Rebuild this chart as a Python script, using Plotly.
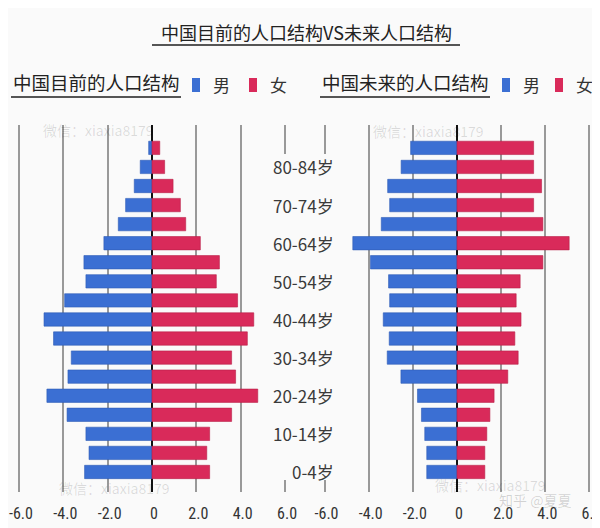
import plotly.graph_objects as go

# ---------------- data ----------------
age_groups = ["0-4岁", "5-9岁", "10-14岁", "15-19岁", "20-24岁", "25-29岁", "30-34岁",
              "35-39岁", "40-44岁", "45-49岁", "50-54岁", "55-59岁", "60-64岁", "65-69岁",
              "70-74岁", "75-79岁", "80-84岁", "85岁以上"]
shown_labels = ["0-4岁", "10-14岁", "20-24岁", "30-34岁", "40-44岁",
                "50-54岁", "60-64岁", "70-74岁", "80-84岁"]

current_male = [3.04, 2.84, 2.98, 3.83, 4.74, 3.79, 3.64, 4.44, 4.87, 3.94,
                2.98, 3.07, 2.17, 1.52, 1.19, 0.80, 0.53, 0.15]
current_female = [2.60, 2.47, 2.60, 3.59, 4.77, 3.77, 3.59, 4.30, 4.59, 3.86,
                  2.90, 3.04, 2.18, 1.52, 1.28, 0.95, 0.57, 0.35]
future_male = [1.37, 1.37, 1.46, 1.61, 1.79, 2.54, 3.16, 3.07, 3.34, 3.05,
               3.10, 3.92, 4.72, 3.43, 3.05, 3.14, 2.53, 2.10]
future_female = [1.26, 1.26, 1.35, 1.49, 1.68, 2.30, 2.77, 2.62, 2.90, 2.68,
                 2.86, 3.89, 5.08, 3.89, 3.47, 3.83, 3.47, 3.47]

tick_vals = [-6, -4, -2, 0, 2, 4, 6]
tick_text = ["-6.0", "-4.0", "-2.0", "0", "2.0", "4.0", "6.0"]

title_text = "中国目前的人口结构VS未来人口结构"
left_title = "中国目前的人口结构"
right_title = "中国未来的人口结构"
legend_names = ["男", "女"]
watermark = "微信：xiaxia8179"

# ---------------- style ----------------
# the page body has an 8px margin; the figure is sized to fit the 600x528 window
OX, OY = 8, 8
W, H = 600 - OX, 528 - OY
BG = "#fafafa"
BLUE = "#3b6fd3"
RED = "#d92a5a"
CJK = "Noto Sans CJK SC, Noto Sans, sans-serif"
TICKFONT = "Liberation Sans Narrow, Roboto Condensed, Noto Sans, sans-serif"


def px(x):
    """window pixel x -> paper fraction"""
    return (x - OX) / W


def py(y):
    """window pixel y -> paper fraction"""
    return 1 - (y - OY) / H


fig = go.Figure()

fig.add_trace(go.Bar(y=age_groups, x=[-v for v in current_male], orientation="h",
                     name=legend_names[0], marker=dict(color=BLUE, line=dict(color="#2f5db5", width=0.6)),
                     xaxis="x", yaxis="y"))
fig.add_trace(go.Bar(y=age_groups, x=current_female, orientation="h",
                     name=legend_names[1], marker=dict(color=RED, line=dict(color="#b82048", width=0.6)),
                     xaxis="x", yaxis="y"))
fig.add_trace(go.Bar(y=age_groups, x=[-v for v in future_male], orientation="h",
                     name=legend_names[0], marker=dict(color=BLUE, line=dict(color="#2f5db5", width=0.6)),
                     xaxis="x2", yaxis="y2"))
fig.add_trace(go.Bar(y=age_groups, x=future_female, orientation="h",
                     name=legend_names[1], marker=dict(color=RED, line=dict(color="#b82048", width=0.6)),
                     xaxis="x2", yaxis="y2"))

xaxis_common = dict(range=[-6.3, 6.3], tickvals=tick_vals, ticktext=tick_text,
                    showgrid=True, gridcolor="#999999", gridwidth=1.5,
                    zeroline=True, zerolinecolor="#111111", zerolinewidth=2,
                    showline=False, ticks="", ticklabelstandoff=10, automargin=False,
                    ticklabeloverflow="allow", ticklabelshift=2,
                    tickfont=dict(family=TICKFONT, size=16, color="#333333"),
                    fixedrange=True)
yaxis_common = dict(type="category", categoryorder="array", categoryarray=age_groups,
                    range=[-1.05, 18.2], showticklabels=False, showgrid=False,
                    zeroline=False, showline=False, ticks="", automargin=False,
                    domain=[py(492), py(125)], fixedrange=True)

fig.update_layout(
    width=W, height=H,
    margin=dict(l=0, r=0, t=0, b=0, pad=0, autoexpand=False),
    paper_bgcolor=BG, plot_bgcolor=BG,
    barmode="relative", bargap=0.3,
    xaxis=dict(domain=[px(12.3), px(291.7)], anchor="y", **xaxis_common),
    xaxis2=dict(domain=[px(317.9), px(596.1)], anchor="y2", **xaxis_common),
    yaxis=dict(anchor="x", **yaxis_common),
    yaxis2=dict(anchor="x2", **yaxis_common),
    showlegend=False,
)

shapes = [
    # background column behind the age labels
    dict(type="rect", xref="paper", yref="paper", x0=px(268), x1=px(342),
         y0=py(480), y1=py(154), fillcolor=BG, line=dict(width=0), layer="above"),
    # underlines
    dict(type="line", xref="paper", yref="paper", x0=px(152), x1=px(460),
         y0=py(45), y1=py(45), line=dict(color="#555555", width=2)),
    dict(type="line", xref="paper", yref="paper", x0=px(11), x1=px(181),
         y0=py(97), y1=py(97), line=dict(color="#555555", width=2)),
    dict(type="line", xref="paper", yref="paper", x0=px(320), x1=px(490),
         y0=py(97), y1=py(97), line=dict(color="#555555", width=2)),
]

annotations = [
    dict(text=title_text, xref="paper", yref="paper", x=px(306), y=py(32),
         showarrow=False, font=dict(family=CJK, size=18, color="#222222"),
         xanchor="center", yanchor="middle"),
    dict(text=left_title, xref="paper", yref="paper", x=px(11), y=py(82),
         showarrow=False, font=dict(family=CJK, size=18.5, color="#222222"),
         xanchor="left", yanchor="middle"),
    dict(text=right_title, xref="paper", yref="paper", x=px(320), y=py(82),
         showarrow=False, font=dict(family=CJK, size=18.5, color="#222222"),
         xanchor="left", yanchor="middle"),
]

# legend keys (square + label) for each panel
for (x_blue, x_red) in [(192, 249), (502, 555)]:
    for xs, col, name in [(x_blue, BLUE, legend_names[0]), (x_red, RED, legend_names[1])]:
        shapes.append(dict(type="rect", xref="paper", yref="paper", x0=px(xs), x1=px(xs + 8),
                           y0=py(92), y1=py(78), fillcolor=col, line=dict(width=0)))
        annotations.append(dict(text=name, xref="paper", yref="paper", x=px(xs + 19), y=py(84),
                                showarrow=False, xanchor="left", yanchor="middle",
                                font=dict(family=CJK, size=17, color="#333333")))

for lab in shown_labels:
    annotations.append(dict(text=lab, xref="paper", yref="y", x=px(336), y=lab,
                            showarrow=False, xanchor="right", yanchor="middle",
                            font=dict(family=CJK, size=17, color="#3a3a3a")))

for (wx, wy) in [(98, 130), (428, 131), (114, 488), (490, 485)]:
    annotations.append(dict(text=watermark, xref="paper", yref="paper", x=px(wx), y=py(wy),
                            showarrow=False, xanchor="center", yanchor="middle",
                            font=dict(family=CJK, size=14, color="rgba(0,0,0,0.13)")))
annotations.append(dict(text="知乎 @夏夏", xref="paper", yref="paper", x=px(535), y=py(500),
                        showarrow=False, xanchor="center", yanchor="middle",
                        font=dict(family=CJK, size=14, color="rgba(0,0,0,0.16)")))

fig.update_layout(shapes=shapes, annotations=annotations)

fig.write_html("out.html")
